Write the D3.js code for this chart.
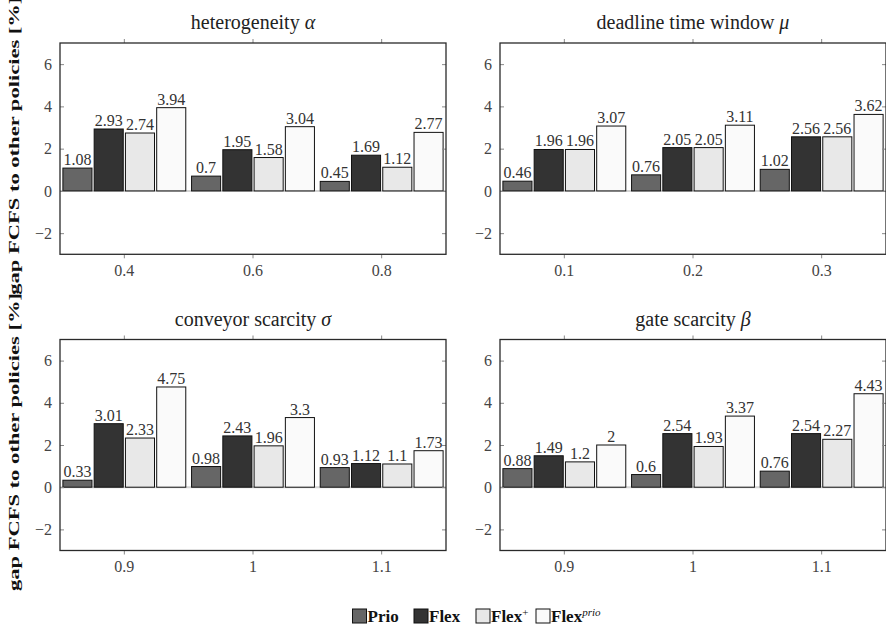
<!DOCTYPE html>
<html>
<head>
<meta charset="utf-8">
<script src="https://cdn.jsdelivr.net/npm/d3@7"></script>
<style>
  html, body { margin: 0; padding: 0; background: #fff; }
  svg { display: block; }
</style>
</head>
<body>
<svg id="chart" width="886" height="626"></svg>
<script>
// ---- data ----
const seriesNames = ["Prio", "Flex", "Flex+", "Flexprio"];
const seriesColors = ["#666666", "#333333", "#e8e8e8", "#fafafa"];

const panelTitles = ["heterogeneity ", "deadline time window ", "conveyor scarcity ", "gate scarcity "];
const panelSymbols = ["α", "μ", "σ", "β"];

const catsAlpha = ["0.4", "0.6", "0.8"];
const catsMu = ["0.1", "0.2", "0.3"];
const catsSigma = ["0.9", "1", "1.1"];
const catsBeta = ["0.9", "1", "1.1"];

// values per series (Prio, Flex, Flex+, Flexprio), one entry per category
const alphaPrio = [1.08, 0.7, 0.45];
const alphaFlex = [2.93, 1.95, 1.69];
const alphaFlexPlus = [2.74, 1.58, 1.12];
const alphaFlexPrio = [3.94, 3.04, 2.77];

const muPrio = [0.46, 0.76, 1.02];
const muFlex = [1.96, 2.05, 2.56];
const muFlexPlus = [1.96, 2.05, 2.56];
const muFlexPrio = [3.07, 3.11, 3.62];

const sigmaPrio = [0.33, 0.98, 0.93];
const sigmaFlex = [3.01, 2.43, 1.12];
const sigmaFlexPlus = [2.33, 1.96, 1.1];
const sigmaFlexPrio = [4.75, 3.3, 1.73];

const betaPrio = [0.88, 0.6, 0.76];
const betaFlex = [1.49, 2.54, 2.54];
const betaFlexPlus = [1.2, 1.93, 2.27];
const betaFlexPrio = [2, 3.37, 4.43];

const yTicks = [-2, 0, 2, 4, 6];
const yDomain = [-3, 7];
const yLabel = "gap FCFS to other policies [%]";

// ---- assemble ----
const FONT = '"Liberation Serif", "DejaVu Serif", serif';
const panels = [
  { title: panelTitles[0], sym: panelSymbols[0], cats: catsAlpha, vals: [alphaPrio, alphaFlex, alphaFlexPlus, alphaFlexPrio] },
  { title: panelTitles[1], sym: panelSymbols[1], cats: catsMu, vals: [muPrio, muFlex, muFlexPlus, muFlexPrio] },
  { title: panelTitles[2], sym: panelSymbols[2], cats: catsSigma, vals: [sigmaPrio, sigmaFlex, sigmaFlexPlus, sigmaFlexPrio] },
  { title: panelTitles[3], sym: panelSymbols[3], cats: catsBeta, vals: [betaPrio, betaFlex, betaFlexPlus, betaFlexPrio] }
];

const svg = d3.select("#chart").style("font-family", FONT);
const lefts = [60, 500];
const rights = [446, 886];
const tops = [43, 339.5];
const bottoms = [254.3, 550.5];

const fmt = v => String(v);

panels.forEach((p, i) => {
  const col = i % 2, row = Math.floor(i / 2);
  const L = lefts[col], R = rights[col], T = tops[row], B = bottoms[row];
  const g = svg.append("g");

  const x = d3.scaleBand().domain(p.cats).range([L, R]).padding(0);
  const bw = x.bandwidth();
  const x1 = d3.scaleBand().domain(seriesNames).range([bw * 0.0225, bw * 0.9775]).paddingInner(0.07).paddingOuter(0);
  const y = d3.scaleLinear().domain(yDomain).range([B, T]);

  // zero line
  g.append("line")
    .attr("x1", L).attr("x2", R)
    .attr("y1", y(0)).attr("y2", y(0))
    .attr("stroke", "#d4d4d4").attr("stroke-width", 2);

  // bars
  const rows = [];
  p.cats.forEach((c, ci) => {
    seriesNames.forEach((s, si) => rows.push({ cat: c, s: s, si: si, v: p.vals[si][ci] }));
  });
  g.selectAll("rect.bar").data(rows).enter().append("rect")
    .attr("class", "bar")
    .attr("x", d => x(d.cat) + x1(d.s))
    .attr("width", x1.bandwidth())
    .attr("y", d => y(Math.max(0, d.v)))
    .attr("height", d => Math.abs(y(d.v) - y(0)))
    .attr("fill", d => seriesColors[d.si])
    .attr("stroke", "#111")
    .attr("stroke-width", 1);

  // value labels
  g.selectAll("text.val").data(rows).enter().append("text")
    .attr("class", "val")
    .attr("x", d => x(d.cat) + x1(d.s) + x1.bandwidth() / 2)
    .attr("y", d => y(d.v) - 3)
    .attr("text-anchor", "middle")
    .attr("font-size", 16)
    .attr("fill", "#333")
    .style("font-family", FONT)
    .text(d => fmt(d.v));

  // axes (y inward ticks, left & right)
  const yAxL = d3.axisLeft(y).tickValues(yTicks).tickSize(-4).tickPadding(8)
    .tickFormat(v => v < 0 ? "\u2212" + Math.abs(v) : String(v));
  const yAxR = d3.axisRight(y).tickValues(yTicks).tickSize(-4).tickFormat("");
  const xAxB = d3.axisBottom(x).tickSize(4).tickPadding(6);
  const xAxT = d3.axisTop(x).tickSize(4).tickFormat("");

  const gyl = g.append("g").attr("transform", `translate(${L},0)`).call(yAxL);
  const gyr = g.append("g").attr("transform", `translate(${R},0)`).call(yAxR);
  const gxb = g.append("g").attr("transform", `translate(0,${B})`).call(xAxB);
  const gxt = g.append("g").attr("transform", `translate(0,${T})`).call(xAxT);
  [gyl, gyr, gxb, gxt].forEach(ax => {
    ax.attr("font-family", null).style("font-family", FONT);
    ax.select(".domain").remove();
    ax.selectAll(".tick line").attr("stroke", "#888").attr("stroke-width", 1);
    ax.selectAll(".tick text").attr("font-size", 16).attr("fill", "#444").style("font-family", FONT);
  });

  // frame
  g.append("rect")
    .attr("x", L).attr("y", T).attr("width", R - L).attr("height", B - T)
    .attr("fill", "none").attr("stroke", "#2a2a2a").attr("stroke-width", 1.3);

  // title
  const t = g.append("text")
    .attr("x", (L + R) / 2).attr("y", T - 14)
    .attr("text-anchor", "middle").attr("font-size", 20).attr("fill", "#222")
    .style("font-family", FONT);
  t.append("tspan").text(p.title);
  t.append("tspan").attr("font-style", "italic").text(p.sym);

  // y label (only left column)
  if (col === 0) {
    svg.append("text")
      .attr("transform", `translate(19,${(T + B) / 2 - 3}) rotate(-90)`)
      .attr("text-anchor", "middle")
      .attr("font-size", 15).attr("font-weight", "bold").attr("fill", "#111")
      .style("font-family", FONT)
      .attr("textLength", 298).attr("lengthAdjust", "spacingAndGlyphs")
      .text(yLabel);
  }
});

// legend
const legendX = [352.5, 414, 476, 536];
const lg = svg.append("g");
seriesNames.forEach((s, i) => {
  const gg = lg.append("g").attr("transform", `translate(${legendX[i]},609)`);
  gg.append("rect").attr("x", 0).attr("y", 0).attr("width", 14).attr("height", 14)
    .attr("fill", seriesColors[i]).attr("stroke", "#111").attr("stroke-width", 1);
  const t = gg.append("text").attr("x", 15).attr("y", 13)
    .attr("font-size", 17).attr("font-weight", "bold").attr("fill", "#111")
    .style("font-family", FONT);
  if (s === "Flex+") {
    t.append("tspan").text("Flex");
    t.append("tspan").attr("dy", -6).attr("font-size", 11).attr("font-weight", "normal").text("+");
  } else if (s === "Flexprio") {
    t.append("tspan").text("Flex");
    t.append("tspan").attr("dy", -6).attr("font-size", 11).attr("font-weight", "normal").attr("font-style", "italic").text("prio");
  } else {
    t.text(s);
  }
});
</script>
</body>
</html>
